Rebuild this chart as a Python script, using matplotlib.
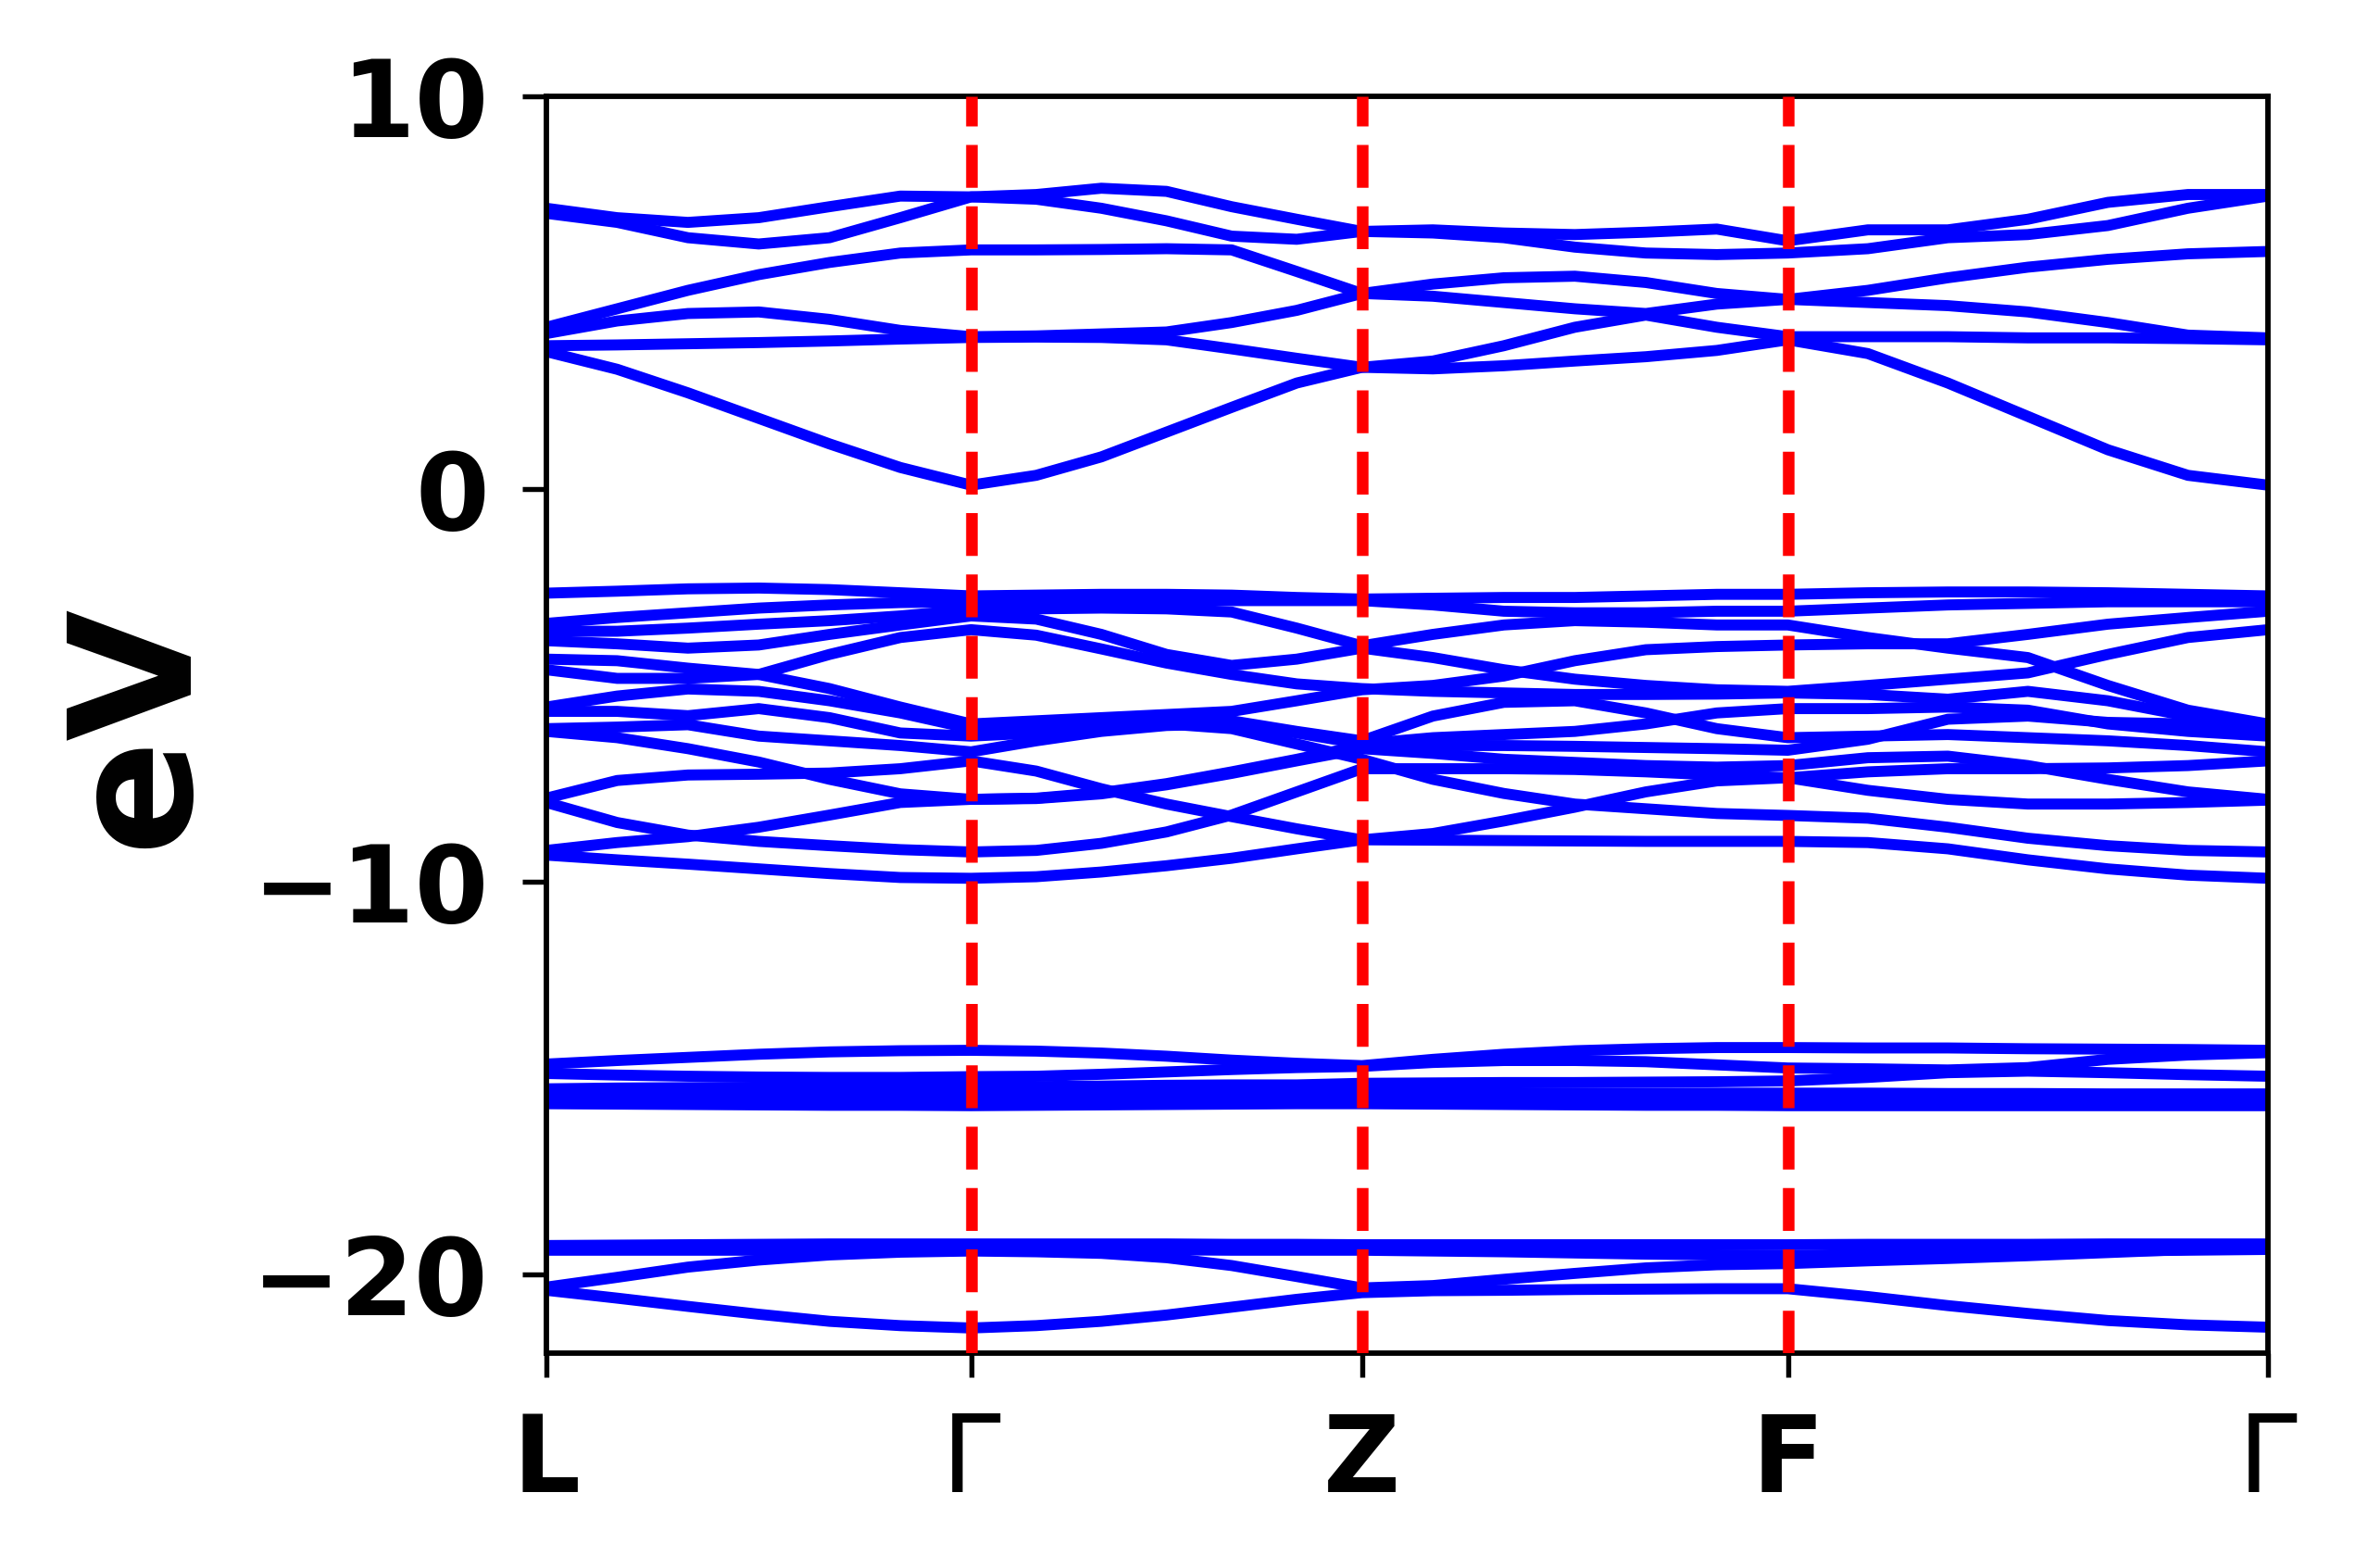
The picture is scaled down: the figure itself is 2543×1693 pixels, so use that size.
import numpy as np
import matplotlib
matplotlib.use("Agg")
import matplotlib.pyplot as plt

# ---------------- data ----------------
kpt_labels = ["L", "Γ", "Z", "F", "Γ"]
seg_lengths = [0.2467, 0.2270, 0.2474, 0.2789]   # relative path length of L-Γ, Γ-Z, Z-F, F-Γ
pts_per_seg = 7                                  # samples per segment (shared end points)

# conduction bands (eV)
cb1 = [3.50, 3.05, 2.45, 1.80, 1.15, 0.55, 0.10, 0.35, 0.82, 1.45, 2.08, 2.70, 3.10,
       3.06, 3.14, 3.26, 3.37, 3.53, 3.80, 3.45, 2.70, 1.85, 1.00, 0.35, 0.10]
cb2 = [3.65, 3.67, 3.70, 3.73, 3.77, 3.82, 3.86, 3.87, 3.86, 3.80, 3.57, 3.33, 3.10,
       3.26, 3.65, 4.12, 4.43, 4.12, 3.88, 3.88, 3.88, 3.85, 3.85, 3.83, 3.80]
cb3 = [3.96, 4.28, 4.47, 4.51, 4.32, 4.04, 3.88, 3.90, 3.95, 4.00, 4.24, 4.55, 4.98,
       4.91, 4.75, 4.59, 4.47, 4.71, 4.83, 4.75, 4.67, 4.51, 4.24, 3.92, 3.85]
cb4 = [4.12, 4.59, 5.06, 5.46, 5.77, 6.01, 6.09, 6.09, 6.10, 6.12, 6.09, 5.54, 4.98,
       5.22, 5.38, 5.42, 5.26, 4.98, 4.83, 5.06, 5.38, 5.65, 5.85, 5.99, 6.05]
cb5 = [7.02, 6.79, 6.40, 6.24, 6.40, 6.91, 7.44, 7.38, 7.15, 6.83, 6.44, 6.36, 6.56,
       6.52, 6.40, 6.16, 6.01, 5.97, 6.01, 6.12, 6.40, 6.48, 6.71, 7.15, 7.46]
cb6 = [7.15, 6.91, 6.79, 6.91, 7.19, 7.46, 7.44, 7.50, 7.66, 7.58, 7.19, 6.87, 6.56,
       6.60, 6.52, 6.48, 6.54, 6.62, 6.32, 6.60, 6.60, 6.87, 7.30, 7.50, 7.50]

# valence bands (eV)
vb1 = [-2.65, -2.60, -2.54, -2.52, -2.56, -2.64, -2.72, -2.70, -2.68, -2.68, -2.70, -2.76, -2.80,
       -2.78, -2.76, -2.76, -2.72, -2.68, -2.68, -2.64, -2.62, -2.62, -2.64, -2.68, -2.72]
vb2 = [-3.42, -3.27, -3.15, -3.03, -2.95, -2.89, -2.87, -2.86, -2.84, -2.84, -2.84, -2.84, -2.84,
       -2.95, -3.11, -3.15, -3.15, -3.11, -3.11, -3.03, -2.95, -2.91, -2.87, -2.87, -2.87]
vb3 = [-3.62, -3.62, -3.54, -3.44, -3.35, -3.23, -3.07, -3.05, -3.03, -3.05, -3.13, -3.54, -3.99,
       -3.70, -3.46, -3.35, -3.39, -3.46, -3.46, -3.78, -4.05, -4.29, -5.00, -5.63, -5.98]
vb4 = [-3.86, -3.94, -4.05, -3.97, -3.70, -3.46, -3.23, -3.31, -3.70, -4.21, -4.49, -4.33, -4.05,
       -4.29, -4.60, -4.84, -5.00, -5.11, -5.15, -5.00, -4.84, -4.68, -4.21, -3.78, -3.58]
vb5 = [-4.33, -4.37, -4.56, -4.72, -5.08, -5.55, -5.98, -5.90, -5.82, -5.74, -5.66, -5.39, -5.11,
       -5.00, -4.76, -4.37, -4.09, -4.01, -3.97, -3.94, -3.94, -3.70, -3.44, -3.27, -3.11]
vb6 = [-4.60, -4.82, -4.82, -4.72, -4.21, -3.78, -3.58, -3.72, -4.07, -4.43, -4.72, -4.96, -5.08,
       -5.15, -5.19, -5.23, -5.23, -5.22, -5.19, -5.23, -5.35, -5.15, -5.39, -5.78, -6.10]
vb7 = [-5.55, -5.27, -5.09, -5.15, -5.39, -5.70, -6.10, -6.02, -5.94, -5.86, -5.90, -6.17, -6.41,
       -5.78, -5.43, -5.39, -5.70, -6.10, -6.33, -6.29, -6.25, -6.33, -6.41, -6.53, -6.69]
vb8 = [-5.66, -5.66, -5.77, -5.59, -5.82, -6.21, -6.29, -6.21, -6.10, -5.98, -6.10, -6.49, -6.88,
       -7.39, -7.75, -8.02, -8.14, -8.26, -8.31, -8.38, -8.61, -8.89, -9.08, -9.20, -9.24]
vb9 = [-6.10, -6.06, -6.00, -6.29, -6.41, -6.53, -6.69, -6.41, -6.17, -6.02, -5.98, -6.21, -6.49,
       -6.33, -6.25, -6.17, -5.98, -5.70, -5.59, -5.59, -5.55, -5.63, -5.98, -6.17, -6.29]
vb10 = [-6.17, -6.33, -6.61, -6.95, -7.39, -7.76, -7.90, -7.87, -7.73, -7.50, -7.20, -6.88, -6.53,
        -6.53, -6.53, -6.55, -6.58, -6.61, -6.65, -6.37, -5.86, -5.78, -5.94, -5.98, -6.00]
vb11 = [-7.87, -7.42, -7.28, -7.26, -7.23, -7.12, -6.92, -7.18, -7.63, -8.02, -8.34, -8.65, -8.93,
        -8.77, -8.45, -8.10, -7.71, -7.43, -7.35, -7.67, -7.90, -8.02, -8.02, -7.98, -7.92]
vb12 = [-7.98, -8.49, -8.81, -8.97, -9.08, -9.18, -9.24, -9.20, -9.02, -8.73, -8.30, -7.71, -7.12,
        -7.12, -7.12, -7.14, -7.20, -7.28, -7.35, -7.20, -7.12, -7.12, -7.10, -7.04, -6.92]
vb13 = [-9.20, -9.00, -8.85, -8.61, -8.30, -7.98, -7.90, -7.88, -7.76, -7.53, -7.24, -6.92, -6.61,
        -6.73, -6.88, -6.96, -7.04, -7.08, -7.04, -6.84, -6.80, -7.04, -7.39, -7.71, -7.90]
vb14 = [-9.32, -9.44, -9.55, -9.67, -9.79, -9.89, -9.91, -9.87, -9.75, -9.59, -9.40, -9.16, -8.93,
        -8.94, -8.95, -8.96, -8.97, -8.97, -8.97, -9.00, -9.16, -9.44, -9.67, -9.83, -9.91]

# semi-core bands around -15 eV
sb1 = [-14.64, -14.55, -14.47, -14.39, -14.33, -14.30, -14.29, -14.31, -14.36, -14.44, -14.54, -14.62, -14.68,
       -14.52, -14.39, -14.30, -14.25, -14.22, -14.22, -14.23, -14.23, -14.25, -14.26, -14.27, -14.29]
sb2 = [-14.88, -14.92, -14.95, -14.97, -14.98, -14.98, -14.96, -14.95, -14.90, -14.84, -14.78, -14.73, -14.70,
       -14.60, -14.55, -14.55, -14.58, -14.66, -14.74, -14.76, -14.79, -14.73, -14.52, -14.41, -14.35]
sb3 = [-15.27, -15.25, -15.24, -15.23, -15.23, -15.23, -15.23, -15.21, -15.20, -15.18, -15.17, -15.17, -15.13,
       -15.12, -15.11, -15.11, -15.10, -15.09, -15.07, -14.98, -14.86, -14.82, -14.86, -14.91, -14.95]
sb4 = [-15.36, -15.37, -15.38, -15.39, -15.40, -15.40, -15.40, -15.40, -15.39, -15.38, -15.37, -15.36, -15.35,
       -15.36, -15.37, -15.38, -15.38, -15.38, -15.38, -15.38, -15.39, -15.39, -15.40, -15.40, -15.40]
sb5 = [-15.52, -15.53, -15.54, -15.55, -15.55, -15.56, -15.56, -15.56, -15.55, -15.54, -15.53, -15.52, -15.51,
       -15.52, -15.53, -15.54, -15.55, -15.55, -15.56, -15.56, -15.56, -15.56, -15.56, -15.56, -15.56]
sb6 = [-15.65, -15.66, -15.67, -15.68, -15.69, -15.69, -15.70, -15.69, -15.68, -15.67, -15.66, -15.65, -15.65,
       -15.66, -15.67, -15.68, -15.69, -15.69, -15.70, -15.70, -15.70, -15.70, -15.70, -15.70, -15.70]

# deep bands around -20 eV
db1 = [-19.26, -19.25, -19.24, -19.23, -19.22, -19.22, -19.22, -19.22, -19.22, -19.22, -19.23, -19.23, -19.24,
       -19.24, -19.24, -19.24, -19.24, -19.24, -19.24, -19.23, -19.23, -19.23, -19.22, -19.22, -19.22]
db2 = [-19.38, -19.38, -19.38, -19.38, -19.38, -19.37, -19.36, -19.36, -19.36, -19.37, -19.38, -19.38, -19.38,
       -19.40, -19.42, -19.45, -19.48, -19.50, -19.52, -19.48, -19.45, -19.42, -19.40, -19.38, -19.36]
db3 = [-20.32, -20.07, -19.81, -19.63, -19.50, -19.43, -19.40, -19.42, -19.46, -19.57, -19.77, -20.05, -20.34,
       -20.28, -20.12, -19.97, -19.83, -19.75, -19.72, -19.65, -19.59, -19.52, -19.44, -19.36, -19.30]
db4 = [-20.40, -20.60, -20.81, -21.01, -21.19, -21.30, -21.36, -21.30, -21.19, -21.03, -20.83, -20.63, -20.46,
       -20.41, -20.40, -20.38, -20.37, -20.36, -20.36, -20.56, -20.79, -20.99, -21.17, -21.28, -21.34]

y_ticks = [-20, -10, 0, 10]
y_limits = (-22, 10)

bands = [cb1, cb2, cb3, cb4, cb5, cb6,
         vb1, vb2, vb3, vb4, vb5, vb6, vb7, vb8, vb9, vb10, vb11, vb12, vb13, vb14,
         sb1, sb2, sb3, sb4, sb5, sb6,
         db1, db2, db3, db4]

# ---------------- k-path positions ----------------
kticks = np.concatenate([[0.0], np.cumsum(seg_lengths)])
kpath = [kticks[0]]
for i in range(len(seg_lengths)):
    kpath.extend(np.linspace(kticks[i], kticks[i + 1], pts_per_seg)[1:])
kpath = np.array(kpath)

# ---------------- figure ----------------
W, H, DPI = 2543, 1693, 300
plt.rcParams['font.family'] = ['DejaVu Sans']
plt.rcParams['font.weight'] = 'bold'
fig = plt.figure(figsize=(W / DPI, H / DPI), dpi=DPI)
ax = fig.add_axes([590 / W, 1 - 1461 / H, (2449 - 590) / W, (1461 - 104) / H])

for b in bands:
    ax.plot(kpath, b, color='blue', lw=2.85, solid_joinstyle='round',
            solid_capstyle='round', zorder=2)

for xv in kticks[1:-1]:
    ax.axvline(xv, color='red', ls='--', lw=3.0, zorder=3)

ax.set_xlim(kticks[0], kticks[-1])
ax.set_ylim(*y_limits)
ax.set_xticks(kticks)
ax.set_xticklabels(kpt_labels)
ax.set_yticks(y_ticks)
ax.tick_params(axis='both', which='major', labelsize=27.5, length=6.3, width=1.3,
               pad=8.6, direction='out', top=False, right=False)
for lbl in ax.get_yticklabels():
    lbl.set_fontweight('bold')
for lbl in ax.get_xticklabels():
    # Greek Γ is rendered in the regular weight in the original, Latin letters bold
    lbl.set_fontweight('normal' if lbl.get_text() == "Γ" else 'bold')
for sp in ax.spines.values():
    sp.set_linewidth(1.4)
ax.set_ylabel('eV', fontsize=44, fontweight='bold', labelpad=8.5)

fig.savefig('out.png', dpi=DPI)
